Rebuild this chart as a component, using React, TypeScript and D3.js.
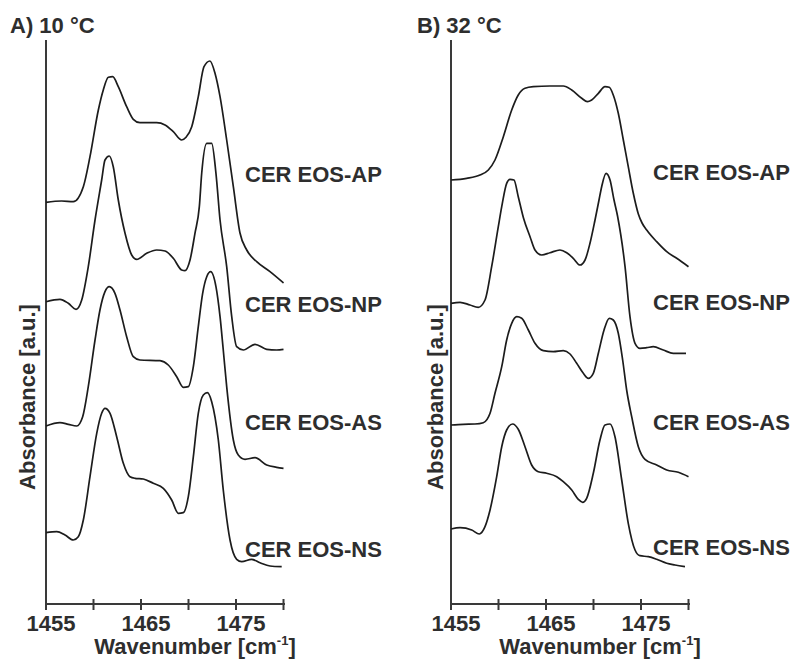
import React from "react";
import * as d3 from "d3";

// Wavenumber ticks and labels shared by both panels
const tickValues = [1455, 1460, 1465, 1470, 1475, 1480];
const tickLabels = [1455, 1465, 1475];
const samples = ["CER EOS-AP", "CER EOS-NP", "CER EOS-AS", "CER EOS-NS"];
const panelTitles = ["A) 10 °C", "B) 32 °C"];

// Offset (stacked) absorbance spectra, arbitrary units: [wavenumber, absorbance]
// ---- 10 °C ----
const ap10: [number, number][] = [
  [1455, 401.7], [1456.65, 403], [1457.87, 402.3], [1458.93, 417.3], [1459.63, 447.3],
  [1460.51, 494], [1461.03, 514], [1461.56, 526.7], [1462.02, 527.3], [1462.61, 517.3],
  [1463.49, 497.3], [1464.19, 484.7], [1464.89, 481.3], [1466.65, 481.3], [1467.53, 479],
  [1468.4, 472.3], [1469.28, 464], [1469.74, 466.7], [1470.34, 477.3], [1471.03, 507.3],
  [1471.63, 537.3], [1472.26, 543], [1472.79, 530.7], [1473.32, 507.3], [1474.02, 464],
  [1474.72, 417.3], [1475.42, 371], [1476.13, 354], [1477.18, 342.3], [1478.58, 332.3],
  [1480, 321],
];
const np10: [number, number][] = [
  [1455, 302.3], [1456.47, 304.7], [1457.35, 300.7], [1458.16, 294.7], [1458.76, 304],
  [1459.45, 337.3], [1460.16, 384], [1460.86, 424], [1461.21, 444], [1461.66, 448],
  [1462.08, 437.3], [1462.61, 404], [1463.32, 370.7], [1464.02, 349], [1464.55, 344.7],
  [1465.6, 350.7], [1466.65, 354], [1467.53, 353], [1468.4, 345.7], [1469.28, 334],
  [1469.63, 333.3], [1470.16, 344], [1470.68, 370.7], [1471.14, 397.3], [1471.39, 430.7],
  [1471.92, 460.7], [1472.44, 460.7], [1472.89, 430.7], [1473.32, 384], [1474.02, 337.3],
  [1474.55, 287.3], [1475.07, 257.3], [1475.77, 254], [1477, 259.7], [1478.23, 254.7],
  [1479.28, 254], [1480, 254.7],
];
const as10: [number, number][] = [
  [1455, 178], [1456.47, 181.3], [1457.35, 179.7], [1458.23, 178], [1458.86, 187.3],
  [1459.45, 217.3], [1460.16, 264], [1460.68, 294], [1461.21, 312.3], [1461.66, 317.3],
  [1462.26, 310.7], [1462.79, 294], [1463.49, 267.3], [1464.19, 247.3], [1464.89, 244],
  [1467, 243.3], [1467.87, 239], [1468.76, 227.3], [1469.45, 216.7], [1469.98, 217.3],
  [1470.51, 237.3], [1471.03, 277.3], [1471.49, 310.7], [1471.92, 327.3], [1472.34, 332.3],
  [1472.89, 317.3], [1473.32, 287.3], [1473.66, 254], [1474.02, 217.3], [1474.72, 164],
  [1475.24, 149], [1475.95, 144.7], [1477, 146.3], [1478.23, 139], [1479.28, 136.7],
  [1480, 135.7],
];
const ns10: [number, number][] = [
  [1455, 71.3], [1456.13, 72.3], [1457, 69], [1457.87, 64], [1458.4, 67.3],
  [1458.93, 84], [1459.63, 127.3], [1460.34, 170.7], [1460.86, 190.7], [1461.21, 195.7],
  [1461.74, 190.7], [1462.44, 167.3], [1463.14, 140.7], [1463.84, 127.3], [1464.37, 125.7],
  [1465.24, 125], [1466.29, 120.7], [1467.35, 115.7], [1468.23, 104], [1468.93, 90.7],
  [1469.45, 91.3], [1469.98, 107.3], [1470.51, 147.3], [1471.03, 190.7], [1471.56, 209],
  [1471.98, 211.3], [1472.44, 202.3], [1473.14, 164], [1473.66, 114], [1474.37, 64],
  [1475.07, 44.7], [1475.6, 42.3], [1476.65, 44.7], [1477.53, 41.3], [1478.58, 38],
  [1479.81, 37.3],
];

// ---- 32 °C ----
const ap32: [number, number][] = [
  [1455, 424], [1456.65, 425.7], [1458.05, 429], [1458.93, 434], [1459.63, 444],
  [1460.51, 467.3], [1461.39, 494], [1462.08, 509], [1462.79, 515.7], [1463.66, 517.3],
  [1465.42, 518], [1466.82, 518], [1467.71, 514], [1468.76, 505.7], [1469.35, 502.3],
  [1469.81, 504], [1470.51, 510.7], [1471.21, 517.3], [1471.66, 516.7], [1472.08, 509],
  [1472.61, 490.7], [1473.14, 464], [1473.66, 437.3], [1474.19, 410.7], [1474.72, 390],
  [1475.11, 381], [1475.6, 374], [1476.65, 362.3], [1477.71, 352.3], [1478.76, 345.7],
  [1480, 337.3],
];
const np32: [number, number][] = [
  [1455, 300.7], [1455.95, 301.7], [1457, 299], [1457.87, 296.7], [1458.58, 304],
  [1459.28, 337.3], [1459.98, 377.3], [1460.34, 397.3], [1460.86, 420.7], [1461.21, 424.7],
  [1461.63, 424], [1462.08, 407.3], [1462.63, 386], [1463.32, 367.3], [1463.84, 354],
  [1464.55, 349], [1465.42, 351.3], [1466.47, 354], [1467.18, 351.3], [1467.87, 345.7],
  [1468.58, 339], [1469.11, 344], [1469.63, 360.7], [1470.16, 384], [1470.58, 404],
  [1470.86, 417.3], [1471.32, 430.7], [1471.74, 424], [1472.16, 404], [1472.53, 388],
  [1473.32, 337.3], [1473.84, 287.3], [1474.37, 260.7], [1474.89, 255.7], [1475.6, 256.3],
  [1476.29, 257.3], [1477.35, 254], [1478.4, 250.7], [1479.74, 250.7],
];
const as32: [number, number][] = [
  [1455, 179], [1456.29, 179.7], [1457.53, 180], [1458.4, 181.3], [1459.11, 190.7],
  [1459.63, 210.7], [1460.34, 237.3], [1460.86, 264], [1461.39, 280.7], [1461.92, 287.3],
  [1462.44, 285.7], [1463.14, 274], [1463.84, 260.7], [1464.72, 253.3], [1465.77, 252.3],
  [1466.82, 253.3], [1467.53, 250], [1468.23, 240.7], [1468.93, 230.7], [1469.45, 225.7],
  [1469.98, 230.7], [1470.51, 250.7], [1471.11, 274], [1471.66, 285.7], [1472.08, 284],
  [1472.61, 270.7], [1473.07, 244], [1473.49, 214], [1474.02, 187.3], [1474.72, 157.3],
  [1475.42, 144.7], [1476.65, 139], [1477.71, 134], [1478.93, 131.7], [1480, 127.3],
];
const ns32: [number, number][] = [
  [1455, 75], [1455.95, 76.3], [1457.18, 74], [1457.98, 70], [1458.58, 77.3],
  [1459.11, 94], [1459.81, 127.3], [1460.34, 157.3], [1460.86, 174], [1461.49, 180],
  [1462.08, 174.7], [1462.79, 157.3], [1463.49, 139], [1464.19, 132.3], [1465.07, 130.7],
  [1466.13, 127.3], [1466.82, 122.3], [1467.71, 114], [1468.4, 104.7], [1468.86, 101.7],
  [1469.28, 105.7], [1469.98, 130.7], [1470.68, 164], [1471.21, 179], [1471.74, 180],
  [1472.26, 167.3], [1472.97, 124], [1473.66, 80.7], [1474.37, 54], [1474.89, 48.3],
  [1475.77, 47.3], [1476.65, 44.7], [1477.71, 40.7], [1478.58, 39], [1479.63, 37.3],
];

const spectra10 = [ap10, np10, as10, ns10];
const spectra32 = [ap32, np32, as32, ns32];

// Layout
const W = 796;
const H = 661;
const axisTop = 40;
const axisBottom = 604;
const yLabelCenter = 397;
const panels = [
  { x0: 46, x1: 283.5, spectra: spectra10, labelX: 245, labelY: [182, 312, 430, 557], titleX: 10, yLabelX: 35, xTitleX: 195 },
  { x0: 451, x1: 688.5, spectra: spectra32, labelX: 653, labelY: [180, 310, 430, 555], titleX: 417, yLabelX: 443, xTitleX: 600 },
];

const FONT = "'Liberation Sans', Arial, Helvetica, sans-serif";
const TEXT = "#2e2e2e";
const AXIS = "#3a3a3a";

const y = d3.scaleLinear().domain([0, 564]).range([axisBottom, axisTop]);

function Panel({ p, title }: { p: (typeof panels)[number]; title: string }) {
  const x = d3.scaleLinear().domain([1455, 1480]).range([p.x0, p.x1]);
  const line = d3
    .line<[number, number]>()
    .x((d) => x(d[0]))
    .y((d) => y(d[1]))
    .curve(d3.curveMonotoneX);
  return (
    <g>
      <text x={p.titleX} y={33} fontFamily={FONT} fontWeight="bold" fontSize={22} fill={TEXT}>
        {title}
      </text>
      {/* axes */}
      <line x1={p.x0} x2={p.x0} y1={axisTop} y2={axisBottom} stroke={AXIS} strokeWidth={2} />
      <line x1={p.x0 - 1} x2={p.x1 + 1.5} y1={axisBottom} y2={axisBottom} stroke={AXIS} strokeWidth={2} />
      {tickValues.map((t) => (
        <line key={t} x1={x(t)} x2={x(t)} y1={axisBottom - 5} y2={axisBottom + 6} stroke={AXIS} strokeWidth={2} />
      ))}
      {tickLabels.map((t) => (
        <text key={t} x={x(t) + 5} y={631} textAnchor="middle" fontFamily={FONT} fontWeight="bold" fontSize={22} fill={TEXT}>
          {t}
        </text>
      ))}
      <text x={p.xTitleX} y={654} textAnchor="middle" fontFamily={FONT} fontWeight="bold" fontSize={22} fill={TEXT}>
        Wavenumber [cm
        <tspan fontSize={13} dy={-9}>-1</tspan>
        <tspan dy={9}>]</tspan>
      </text>
      <text
        transform={`translate(${p.yLabelX},${yLabelCenter}) rotate(-90)`}
        textAnchor="middle"
        fontFamily={FONT}
        fontWeight="bold"
        fontSize={22}
        fill={TEXT}
      >
        Absorbance [a.u.]
      </text>
      {/* spectra */}
      {p.spectra.map((s, i) => (
        <path key={i} d={line(s) ?? ""} fill="none" stroke="#1c1c1c" strokeWidth={1.7} strokeLinejoin="round" />
      ))}
      {samples.map((name, i) => (
        <text key={name} x={p.labelX} y={p.labelY[i]} fontFamily={FONT} fontWeight="bold" fontSize={22} fill={TEXT}>
          {name}
        </text>
      ))}
    </g>
  );
}

export default function App() {
  return (
    <svg
      width={W}
      height={H}
      viewBox={`0 0 ${W} ${H}`}
      style={{ position: "absolute", left: 0, top: 0, background: "#fff" }}
    >
      <rect width={W} height={H} fill="#fff" />
      {panels.map((p, i) => (
        <Panel key={i} p={p} title={panelTitles[i]} />
      ))}
    </svg>
  );
}
